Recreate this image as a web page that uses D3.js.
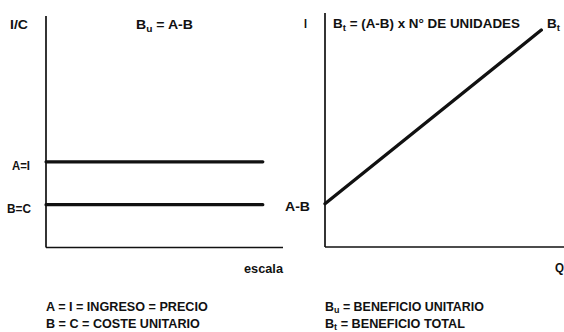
<!DOCTYPE html>
<html><head><meta charset="utf-8">
<script src="https://cdn.jsdelivr.net/npm/d3@7"></script>
<style>
html,body{margin:0;padding:0;background:#fff;}
svg text{font-family:"Liberation Sans",Arial,Helvetica,sans-serif;font-weight:bold;fill:#111;}
</style></head>
<body><svg id="c" width="564" height="332"></svg>
<script>
// Left panel: unit income and unit cost (horizontal lines)
const leftLabels = ["A=I", "B=C"];
const leftValues = [3.7, 1.85];
const leftXExtent = [0, 9.15];
// Right panel: total profit line
const rightQ = [0, 9.05];
const rightBt = [1.85, 9.27];
const legendLeft = ["A = I = INGRESO = PRECIO", "B = C = COSTE UNITARIO"];
const legendRight = [["B","u"," = BENEFICIO UNITARIO"], ["B","t"," = BENEFICIO TOTAL"]];

const svg = d3.select("#c");
const ink = "#111";
const FS = 12;

// scales
const yL = d3.scaleLinear().domain([0, 10]).range([247.5, 16]);
const xL = d3.scaleLinear().domain([0, 10]).range([46, 283]);
const yR = d3.scaleLinear().domain([0, 10]).range([247, 13]);
const xR = d3.scaleLinear().domain([0, 10]).range([325, 564]);

// fit a text horizontally between x0 and x1
function fit(t, x0, x1){
  const w = t.node().getComputedTextLength();
  const k = (x1 - x0) / w;
  t.attr("x", x0).attr("transform", `translate(${x0},0) scale(${k},1) translate(${-x0},0)`);
  return t;
}
function txt(s, x0, x1, y){
  return fit(svg.append("text").attr("y", y).attr("font-size", FS).text(s), x0, x1);
}
function sub(x0, x1, y, base, s, rest, dy){
  dy = dy || 3;
  const t = svg.append("text").attr("y", y).attr("font-size", FS);
  t.append("tspan").text(base);
  t.append("tspan").attr("font-size", FS*0.72).attr("dy", dy).text(s);
  if (rest) t.append("tspan").attr("dy", -dy).text(rest);
  return fit(t, x0, x1);
}

// axes (plain lines, no ticks)
function axesFrame(x, y){
  svg.append("line").attr("x1", x(0)).attr("x2", x(0)).attr("y1", y(0)).attr("y2", y(10))
    .attr("stroke", ink).attr("stroke-width", 1.7);
  svg.append("line").attr("x1", x(0)).attr("x2", x(10)).attr("y1", y(0)).attr("y2", y(0))
    .attr("stroke", ink).attr("stroke-width", 1.7);
}
axesFrame(xL, yL);
axesFrame(xR, yR);

// left horizontal lines
svg.selectAll(".lvl").data(leftValues).enter().append("line")
  .attr("x1", xL(leftXExtent[0])).attr("x2", xL(leftXExtent[1]))
  .attr("y1", d => yL(d)).attr("y2", d => yL(d))
  .attr("stroke", ink).attr("stroke-width", 3.1).attr("stroke-linecap", "round");
txt(leftLabels[0], 12, 30, yL(leftValues[0]) + 8);
txt(leftLabels[1], 7, 31, yL(leftValues[1]) + 8.5);

// right line
const pts = rightQ.map((q, i) => [xR(q), yR(rightBt[i])]);
svg.append("path").attr("d", d3.line()(pts)).attr("fill", "none")
  .attr("stroke", ink).attr("stroke-width", 3.3).attr("stroke-linecap", "round");
txt("A-B", 285, 310, yR(rightBt[0]) + 7.5);

// axis labels
txt("I/C", 10, 28, 29);
txt("escala", 244, 283, 273);
txt("I", 304, 307, 28);
txt("Q", 555, 564, 272);

// titles
sub(136, 193, 29, "B", "u", " = A-B");
sub(333, 520, 28, "B", "t", " = (A-B) x N° DE UNIDADES");
sub(547, 560, 28, "B", "t", null);

// legends
legendLeft.forEach((s, i) => {
  txt(s, 46, i === 0 ? 208 : 200, 311 + i*17.5);
});
legendRight.forEach((d, i) => {
  sub(325, i === 0 ? 484 : 465, 311 + i*17.5, d[0], d[1], d[2], 2);
});
</script></body></html>
